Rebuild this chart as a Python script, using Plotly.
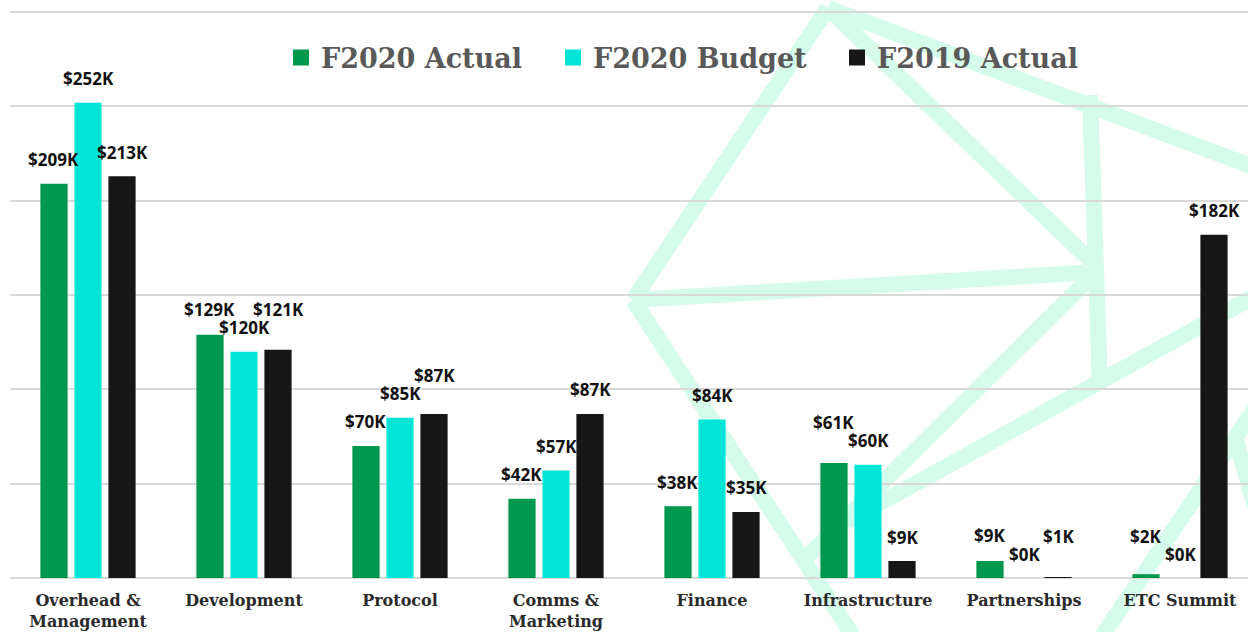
import plotly.graph_objects as go

# ---------------- data ----------------
categories = ["Overhead &<br>Management", "Development", "Protocol", "Comms &<br>Marketing",
              "Finance", "Infrastructure", "Partnerships", "ETC Summit"]
series_names = ["F2020 Actual", "F2020 Budget", "F2019 Actual"]
f2020_actual = [209, 129, 70, 42, 38, 61, 9, 2]
f2020_budget = [252, 120, 85, 57, 84, 60, 0, 0]
f2019_actual = [213, 121, 87, 87, 35, 9, 0.5, 182]
series_values = [f2020_actual, f2020_budget, f2019_actual]
series_colors = ["#00984c", "#00e5d8", "#161616"]

# ---------------- layout constants ----------------
W, H = 1248, 632
M_L, M_R, M_T, M_B = 10, 0, 11, 54
PW, PH = W - M_L - M_R, H - M_T - M_B
CAT_PX = 156.0
BARGAP = 0.346
BARGROUPGAP = 0.2
Y_MAX = 300.6
PX_PER_UNIT = PH / Y_MAX
LABEL_GAP = 24      # label centre above bar top (px)
LABEL_MIN_DY = 18   # min vertical separation of neighbouring labels (px)
x_idx = list(range(len(categories)))
legend_names = ["legend", "legend2", "legend3"]
legend_left_px = [281, 553, 837]

fig = go.Figure()

for name, vals, col, lg in zip(series_names, series_values, series_colors, legend_names):
    fig.add_trace(go.Bar(x=x_idx, y=vals, name=name, marker=dict(color=col, line=dict(width=0)),
                         showlegend=False, hoverinfo="skip"))
    # legend proxy (bigger square symbol)
    fig.add_trace(go.Scatter(x=[None], y=[None], mode="markers", name=name, legend=lg,
                             marker=dict(symbol="square", size=16, color=col)))

# value labels, with a simple neighbour-overlap avoidance (like the original chart)
slot = (1 - BARGAP) / len(series_values)
annotations = []
n_s = len(series_values)
for ci in range(len(categories)):
    vals = [series_values[si][ci] for si in range(n_s)]
    centers = [v * PX_PER_UNIT + LABEL_GAP for v in vals]
    for si in range(1, n_s):
        a, b = si - 1, si
        if abs(centers[a] - centers[b]) < LABEL_MIN_DY:
            hi, lo = (a, b) if vals[a] > vals[b] else (b, a)
            centers[hi] = centers[lo] + LABEL_MIN_DY
    for si in range(n_s):
        v = vals[si]
        off = (si - (n_s - 1) / 2) * slot
        annotations.append(dict(
            x=ci + off, y=v, xref="x", yref="y", text=f"${int(v + 0.5)}K", showarrow=False,
            yanchor="middle", yshift=centers[si] - v * PX_PER_UNIT,
            font=dict(family="Open Sans", size=17, color="#111111", weight="bold")))

# decorative background outline (light mint strokes), pixel coords in the 1248x632 frame
bg_segments = [
    ((828, 8), (633, 300)),
    ((633, 300), (856, 640)),
    ((828, 8), (1262, 170)),
    ((828, 8), (1092, 262)),
    ((633, 300), (1096, 272)),
    ((1096, 272), (808, 556)),
    ((1090, 95), (1100, 386)),
    ((1262, 292), (846, 522)),
    ((1262, 398), (1098, 642)),
    ((1236, 440), (1266, 545)),
]


def to_paper(p):
    return (p[0] - M_L) / PW, (H - M_B - p[1]) / PH


shapes = []
for a, b in bg_segments:
    x0, y0 = to_paper(a)
    x1, y1 = to_paper(b)
    shapes.append(dict(type="line", xref="paper", yref="paper", x0=x0, y0=y0, x1=x1, y1=y1,
                       line=dict(color="#d5fbea", width=16), layer="below"))

legend_style = dict(orientation="h", yanchor="middle", y=(H - M_B - 58) / PH, xanchor="left",
                    font=dict(family="DejaVu Serif", size=27, color="#595959", weight="bold"),
                    bgcolor="rgba(0,0,0,0)", borderwidth=0)
legends = {}
for lg, lx in zip(legend_names, legend_left_px):
    legends[lg] = dict(legend_style, x=(lx - M_L) / PW)

fig.update_layout(
    width=W, height=H,
    margin=dict(l=M_L, r=M_R, t=M_T, b=M_B),
    paper_bgcolor="white", plot_bgcolor="rgba(0,0,0,0)",
    barmode="group", bargap=BARGAP, bargroupgap=BARGROUPGAP,
    showlegend=True,
    annotations=annotations,
    shapes=shapes,
    xaxis=dict(range=[-0.5, -0.5 + PW / CAT_PX], tickvals=x_idx, ticktext=categories,
               showgrid=False, zeroline=False, showline=False, ticks="",
               tickfont=dict(family="DejaVu Serif", size=16, color="#2a2a2a", weight="bold"),
               ticklabelstandoff=11, automargin=False, fixedrange=True),
    yaxis=dict(range=[0, Y_MAX], dtick=50, showticklabels=False, showgrid=True,
               gridcolor="#d9d9d9", gridwidth=2, zeroline=True, zerolinecolor="#d9d9d9",
               zerolinewidth=2, automargin=False, fixedrange=True),
    **legends,
)

fig.write_html("out.html", config={"displayModeBar": False})

# remove the default page margin so the figure fills the 1248x632 window exactly
with open("out.html", "r", encoding="utf-8") as fh:
    html = fh.read()
html = html.replace("<head>", "<head><style>html,body{margin:0;padding:0;overflow:hidden;}</style>", 1)
with open("out.html", "w", encoding="utf-8") as fh:
    fh.write(html)
